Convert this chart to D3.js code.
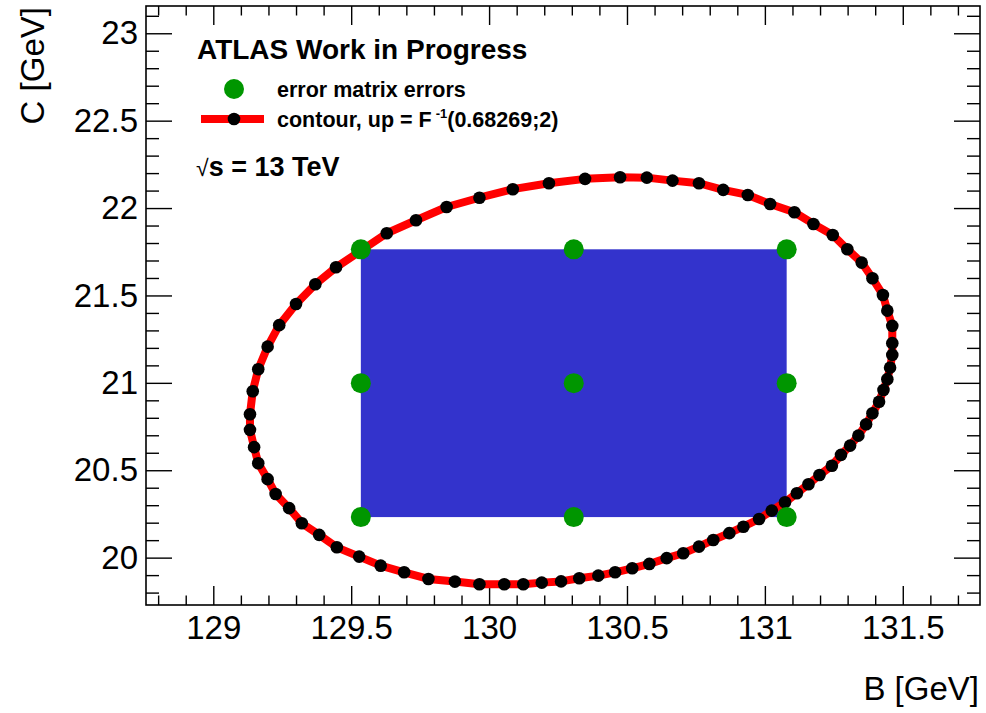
<!DOCTYPE html>
<html>
<head>
<meta charset="utf-8">
<script src="https://cdn.jsdelivr.net/npm/d3@7"></script>
<style>
  html, body { margin: 0; padding: 0; background: #fff; }
  svg { display: block; }
  text { font-family: "Liberation Sans", Arial, Helvetica, sans-serif; fill: #000; }
</style>
</head>
<body>
<svg id="chart" width="986" height="713"></svg>
<script>
// Fit result: best-fit values and error-matrix (HESSE) errors for parameters B and C
const paramNames = ["B", "C"];
const bestFit = [130.307, 20.998];
const errMatrixErr = [0.772, 0.766];

// MINOS contour points, up = F^-1(0.68269;2)
const contourB = [131.462,131.462,131.444,131.428,131.390,131.351,131.299,131.246,131.176,131.107,
  131.019,130.938,130.849,130.761,130.665,130.572,130.475,130.348,130.217,130.086,
  129.965,129.846,129.735,129.629,129.539,129.445,129.370,129.300,129.239,129.197,
  129.163,129.143,129.133,129.133,129.148,129.163,129.197,129.226,129.275,129.321,
  129.384,129.448,129.529,129.607,129.692,129.780,129.876,129.965,130.055,130.124,
  130.191,130.261,130.327,130.396,130.457,130.519,130.581,130.644,130.704,130.761,
  130.813,130.871,130.922,130.979,131.025,131.073,131.116,131.158,131.198,131.243,
  131.276,131.309,131.339,131.367,131.390,131.414,131.430,131.444,131.454,131.462];
const contourC = [21.227,21.326,21.413,21.503,21.598,21.688,21.764,21.846,21.909,21.976,
  22.023,22.075,22.104,22.142,22.157,22.174,22.176,22.167,22.142,22.108,
  22.059,22.006,21.930,21.856,21.760,21.661,21.564,21.451,21.330,21.207,
  21.078,20.952,20.820,20.731,20.632,20.540,20.449,20.364,20.283,20.197,
  20.130,20.059,20.006,19.954,19.916,19.878,19.863,19.848,19.848,19.848,
  19.857,19.864,19.882,19.897,19.916,19.939,19.964,19.997,20.025,20.063,
  20.101,20.140,20.177,20.221,20.269,20.317,20.368,20.420,20.473,20.526,
  20.588,20.641,20.698,20.763,20.826,20.892,20.959,21.021,21.087,21.160];

// Axis ranges and tick labels
const xRange = [128.756, 131.780];
const yRange = [19.729, 23.156];
const xTicks = [129, 129.5, 130, 130.5, 131, 131.5];
const yTicks = [20, 20.5, 21, 21.5, 22, 22.5, 23];
const xTitle = "B [GeV]";
const yTitle = "C [GeV]";

const W = 986, H = 713;
const margin = { left: 146, right: 6, top: 6, bottom: 108 };
const pw = W - margin.left - margin.right;
const ph = H - margin.top - margin.bottom;

const svg = d3.select("#chart");
svg.append("rect").attr("width", W).attr("height", H).attr("fill", "#fff");

const x = d3.scaleLinear().domain(xRange).range([margin.left, margin.left + pw]);
const y = d3.scaleLinear().domain(yRange).range([margin.top + ph, margin.top]);

// Minor ticks every 0.1 between the labelled ones
const isMajor = v => Math.abs(v * 2 - Math.round(v * 2)) < 1e-6;
const xMinor = d3.range(Math.ceil(xRange[0] * 10), Math.floor(xRange[1] * 10) + 1).map(v => v / 10).filter(v => !isMajor(v));
const yMinor = d3.range(Math.ceil(yRange[0] * 10), Math.floor(yRange[1] * 10) + 1).map(v => v / 10).filter(v => !isMajor(v));

const fmt = d => String(+d.toFixed(1));
const tickFont = 33;

function styleAxis(g) {
  g.select(".domain").remove();
  g.selectAll(".tick line").attr("stroke", "#000").attr("stroke-width", 1.4);
  g.selectAll(".tick text").attr("font-size", tickFont).attr("fill", "#000")
    .attr("font-family", "'Liberation Sans', Arial, Helvetica, sans-serif");
}

const bottomY = margin.top + ph, topY = margin.top;
const leftX = margin.left, rightX = margin.left + pw;

// Bottom axis (labelled) and top mirror
svg.append("g").attr("transform", `translate(0,${bottomY})`)
  .call(d3.axisBottom(x).tickValues(xTicks).tickSizeInner(-19).tickSizeOuter(0).tickPadding(11).tickFormat(fmt)).call(styleAxis);
svg.append("g").attr("transform", `translate(0,${bottomY})`)
  .call(d3.axisBottom(x).tickValues(xMinor).tickSizeInner(-9.5).tickSizeOuter(0).tickFormat("")).call(styleAxis);
svg.append("g").attr("transform", `translate(0,${topY})`)
  .call(d3.axisTop(x).tickValues(xTicks).tickSizeInner(-19).tickSizeOuter(0).tickFormat("")).call(styleAxis);
svg.append("g").attr("transform", `translate(0,${topY})`)
  .call(d3.axisTop(x).tickValues(xMinor).tickSizeInner(-9.5).tickSizeOuter(0).tickFormat("")).call(styleAxis);

// Left axis (labelled) and right mirror
svg.append("g").attr("transform", `translate(${leftX},0)`)
  .call(d3.axisLeft(y).tickValues(yTicks).tickSizeInner(-26).tickSizeOuter(0).tickPadding(8).tickFormat(fmt)).call(styleAxis);
svg.append("g").attr("transform", `translate(${leftX},0)`)
  .call(d3.axisLeft(y).tickValues(yMinor).tickSizeInner(-13).tickSizeOuter(0).tickFormat("")).call(styleAxis);
svg.append("g").attr("transform", `translate(${rightX},0)`)
  .call(d3.axisRight(y).tickValues(yTicks).tickSizeInner(-26).tickSizeOuter(0).tickFormat("")).call(styleAxis);
svg.append("g").attr("transform", `translate(${rightX},0)`)
  .call(d3.axisRight(y).tickValues(yMinor).tickSizeInner(-13).tickSizeOuter(0).tickFormat("")).call(styleAxis);

// Error-matrix box: best fit +/- one error in each parameter
svg.append("rect")
  .attr("x", x(bestFit[0] - errMatrixErr[0]))
  .attr("y", y(bestFit[1] + errMatrixErr[1]))
  .attr("width", x(bestFit[0] + errMatrixErr[0]) - x(bestFit[0] - errMatrixErr[0]))
  .attr("height", y(bestFit[1] - errMatrixErr[1]) - y(bestFit[1] + errMatrixErr[1]))
  .attr("fill", "#3333cc");

// Contour: thick red closed line with black markers
const contourPts = contourB.map((b, i) => [b, contourC[i]]);
const line = d3.line().x(d => x(d[0])).y(d => y(d[1]));
svg.append("path")
  .datum(contourPts.concat([contourPts[0]]))
  .attr("d", line)
  .attr("fill", "none")
  .attr("stroke", "#ff0000")
  .attr("stroke-width", 8)
  .attr("stroke-linejoin", "round");
svg.append("g").selectAll("circle").data(contourPts).join("circle")
  .attr("cx", d => x(d[0])).attr("cy", d => y(d[1])).attr("r", 6.3).attr("fill", "#000");

// Error-matrix points: 3x3 grid of best fit and +/- errors
const offsets = [-1, 0, 1];
const gridPts = [];
offsets.forEach(i => offsets.forEach(j => gridPts.push([bestFit[0] + i * errMatrixErr[0], bestFit[1] + j * errMatrixErr[1]])));
svg.append("g").selectAll("circle").data(gridPts).join("circle")
  .attr("cx", d => x(d[0])).attr("cy", d => y(d[1])).attr("r", 10).attr("fill", "#009600");

// Frame
svg.append("rect")
  .attr("x", leftX).attr("y", topY).attr("width", pw).attr("height", ph)
  .attr("fill", "none").attr("stroke", "#000").attr("stroke-width", 1.6);

// Axis titles
svg.append("text").attr("x", 979).attr("y", 700).attr("text-anchor", "end")
  .attr("font-size", 33).text(xTitle);
svg.append("text").attr("transform", "translate(44,7) rotate(-90)").attr("text-anchor", "end")
  .attr("font-size", 33).text(yTitle);

// Labels and legend
svg.append("text").attr("x", 197).attr("y", 59).attr("font-size", 28).attr("font-weight", "bold")
  .text("ATLAS Work in Progress");

const legend = svg.append("g");
legend.append("circle").attr("cx", 234).attr("cy", 89).attr("r", 10).attr("fill", "#009600");
legend.append("text").attr("x", 277).attr("y", 97).attr("font-size", 21.5).attr("font-weight", "bold")
  .text("error matrix errors");
legend.append("line").attr("x1", 201).attr("x2", 264).attr("y1", 119).attr("y2", 119)
  .attr("stroke", "#ff0000").attr("stroke-width", 8);
legend.append("circle").attr("cx", 234).attr("cy", 119).attr("r", 6.3).attr("fill", "#000");
const ct = legend.append("text").attr("x", 277).attr("y", 127).attr("font-size", 21.5).attr("font-weight", "bold");
ct.append("tspan").text("contour, up = F");
ct.append("tspan").attr("dx", 4).attr("dy", -9).attr("font-size", 13).text("-1");
ct.append("tspan").attr("dy", 9).text("(0.68269;2)");

const rs = svg.append("text").attr("x", 196).attr("y", 176).attr("font-size", 27).attr("font-weight", "bold");
rs.append("tspan").attr("font-weight", "normal").attr("font-size", 23).text("√");
rs.append("tspan").text("s = 13 TeV");
</script>
</body>
</html>
